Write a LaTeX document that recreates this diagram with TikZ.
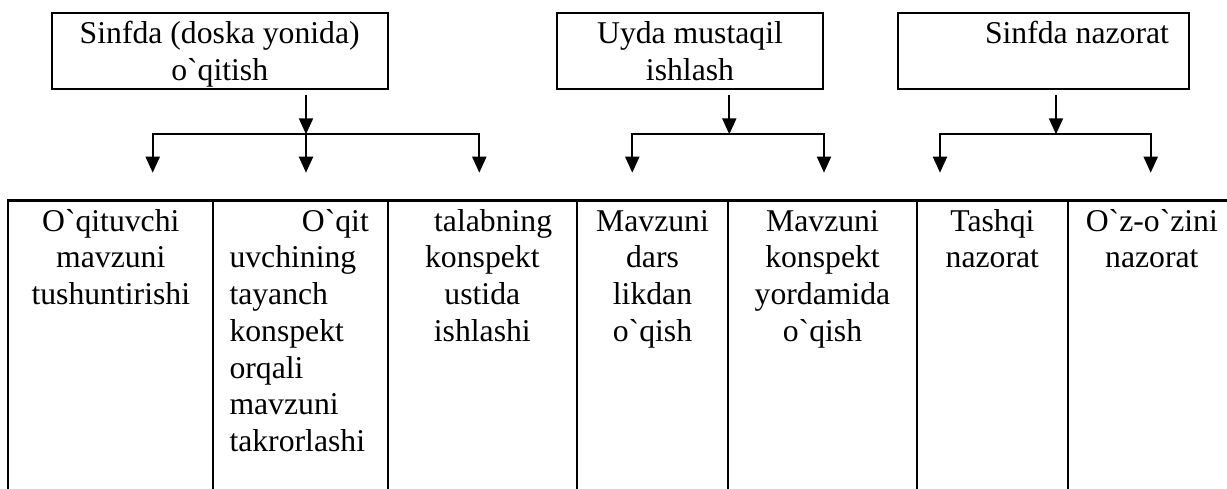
\documentclass[tikz,border=0pt]{standalone}
\usepackage{fontspec}
\setmainfont{Liberation Serif}[Ligatures=TeXOff]
\usetikzlibrary{arrows.meta}
\newcommand\tst{\rule{0pt}{30.5pt}}
\newcommand\bst{\rule[-8.8pt]{0pt}{8.8pt}}
\begin{document}
\begin{tikzpicture}[x=1pt,y=-1pt,
  every node/.style={font=\fontsize{31.7pt}{36.7pt}\selectfont},
  hbox/.style={draw,line width=2.3pt,inner sep=0pt,minimum height=76pt,align=center},
  cell/.style={draw,line width=2.3pt,inner sep=0pt,outer sep=0pt,anchor=north west,minimum height=300pt},
  ctext/.style={inner sep=0pt,anchor=north,align=center},
  arr/.style={line width=2pt,-{Triangle[width=14pt,length=16pt]}}
]
\useasboundingbox (0,0) rectangle (1227,488);

% top boxes
\node[hbox,minimum width=336pt] (b1) at (219.7,51.3) {\tst Sinfda (doska yonida)\\o`qitish\bst};
\node[hbox,minimum width=266pt] (b2) at (690,51.3) {\tst Uyda mustaqil\\ishlash\bst};
\node[hbox,minimum width=291pt] (b3) at (1043.5,51.3) {\tst\hspace*{67pt}Sinfda nazorat\\\bst};

% junctions and arrow ends
\coordinate (j1) at (306,134.3);
\coordinate (a11) at (152.7,172.7);
\coordinate (a12) at (306,172.7);
\coordinate (a13) at (479.3,172.7);
\coordinate (j2) at (729.3,134.3);
\coordinate (a21) at (632.3,172.7);
\coordinate (a22) at (824,172.7);
\coordinate (j3) at (1056,134.3);
\coordinate (a31) at (940,172.7);
\coordinate (a32) at (1150.7,172.7);

% connectors
\draw[arr] ([yshift=-4.5pt]b1.south -| j1) -- (j1);
\draw[arr] (j1) -| (a11);
\draw[arr] (j1) -- (a12);
\draw[arr] (j1) -| (a13);

\draw[arr] ([yshift=-4.5pt]b2.south -| j2) -- (j2);
\draw[arr] (j2) -| (a21);
\draw[arr] (j2) -| (a22);

\draw[arr] ([yshift=-4.5pt]b3.south -| j3) -- (j3);
\draw[arr] (j3) -| (a31);
\draw[arr] (j3) -| (a32);

% table cells
\node[cell,minimum width=205pt] (c1) at (8.3,200.5) {};
\node[cell,minimum width=174.4pt] (c2) at (213.3,200.5) {};
\node[cell,minimum width=189.3pt] (c3) at (387.7,200.5) {};
\node[cell,minimum width=151pt] (c4) at (577,200.5) {};
\node[cell,minimum width=189pt] (c5) at (728,200.5) {};
\node[cell,minimum width=150.7pt] (c6) at (917,200.5) {};
\node[cell,minimum width=168.3pt] (c7) at (1067.7,200.5) {};

% cell texts
\node[ctext] (t1) at (c1.north) {\tst O`qituvchi\\mavzuni\\tushuntirishi};
\node[inner sep=0pt,anchor=north west,align=left] (t2) at (229.3,200.5)
  {\tst\hspace*{72.4pt}O`qit\\uvchining\\tayanch\\konspekt\\orqali\\mavzuni\\takrorlashi};
\node[ctext] (t3) at (c3.north) {\tst\hspace*{21.6pt}talabning\\konspekt\\ustida\\ishlashi};
\node[ctext] (t4) at (c4.north) {\tst Mavzuni\\dars\\likdan\\o`qish};
\node[ctext] (t5) at (c5.north) {\tst Mavzuni\\konspekt\\yordamida\\o`qish};
\node[ctext] (t6) at (c6.north) {\tst Tashqi\\nazorat};
\node[ctext] (t7) at (c7.north) {\tst O`z-o`zini\\nazorat};
\end{tikzpicture}
\end{document}
